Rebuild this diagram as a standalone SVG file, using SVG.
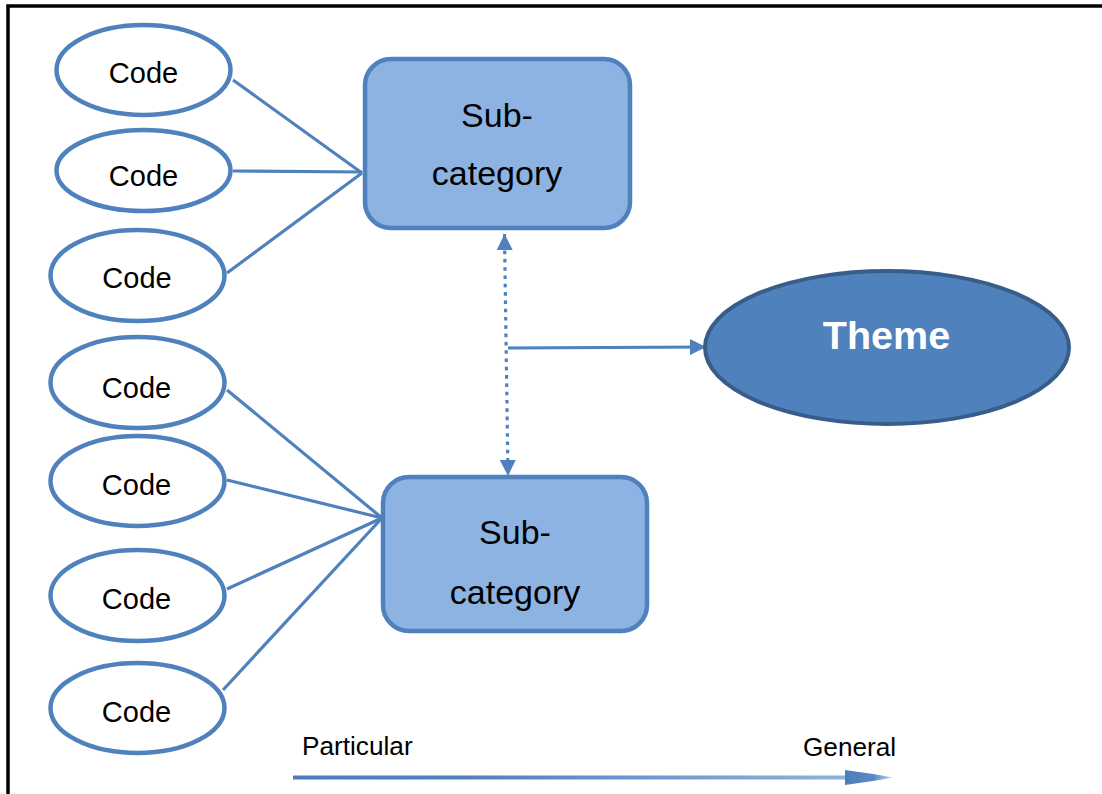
<svg xmlns="http://www.w3.org/2000/svg" width="1102" height="794" viewBox="0 0 1102 794">
<style>
.code ellipse{fill:#fff;stroke:#4f81bd;stroke-width:4.5}
.code text{font-family:"Liberation Sans",Arial,sans-serif;font-size:29px;fill:#000;text-anchor:middle}
.sub rect{fill:#8db3e2;stroke:#4f81bd;stroke-width:4.5}
.sub text{font-family:"Liberation Sans",Arial,sans-serif;font-size:34px;fill:#000;text-anchor:middle}
.conn line{stroke:#4f81bd;stroke-width:3.2;fill:none}
.lbl{font-family:"Liberation Sans",Arial,sans-serif;font-size:26.2px;fill:#000}
</style>
<defs>
<marker id="ah" viewBox="0 0 16 16" refX="16" refY="8" markerWidth="16" markerHeight="16" markerUnits="userSpaceOnUse" orient="auto-start-reverse">
<path d="M0,0 L16,8 L0,16 Z" fill="#4f81bd"/>
</marker>
<linearGradient id="fade" x1="0" y1="0" x2="1" y2="0">
<stop offset="0" stop-color="#4a7ebb"/>
<stop offset="0.3" stop-color="#4f81bd"/>
<stop offset="1" stop-color="#8fb2dc"/>
</linearGradient>
<linearGradient id="headfade" x1="0" y1="0" x2="1" y2="0">
<stop offset="0" stop-color="#4a7ebb"/>
<stop offset="0.6" stop-color="#5a8ac4"/>
<stop offset="1" stop-color="#c5d6ec"/>
</linearGradient>
</defs>

<path id="frame" d="M8,794 V6 H1102" fill="none" stroke="#000" stroke-width="3.5"/>

<g id="connectors" class="conn">
<line x1="233" y1="80" x2="362" y2="173"/>
<line x1="233" y1="171" x2="362" y2="172"/>
<line x1="227" y1="273" x2="362" y2="173"/>
<line x1="227" y1="390" x2="382" y2="518"/>
<line x1="227" y1="480" x2="382" y2="518"/>
<line x1="227" y1="589" x2="382" y2="518"/>
<line x1="223" y1="690" x2="382" y2="518"/>
<line x1="504.5" y1="234" x2="508" y2="476" stroke-width="4" stroke-dasharray="3.6 4.7" marker-start="url(#ah)" marker-end="url(#ah)"/>
<line x1="508" y1="348" x2="706" y2="347" stroke-width="3.8" marker-end="url(#ah)"/>
</g>

<g id="code1" class="code"><ellipse cx="143.5" cy="70" rx="87" ry="45"/><text x="143.5" y="83">Code</text></g>
<g id="code2" class="code"><ellipse cx="143.5" cy="170.5" rx="87" ry="40.5"/><text x="143.5" y="186">Code</text></g>
<g id="code3" class="code"><ellipse cx="137.5" cy="275.5" rx="87" ry="45.5"/><text x="137" y="288">Code</text></g>
<g id="code4" class="code"><ellipse cx="137.5" cy="382.5" rx="87" ry="45.5"/><text x="136.5" y="397.5">Code</text></g>
<g id="code5" class="code"><ellipse cx="137.5" cy="481" rx="87" ry="45"/><text x="136.5" y="495">Code</text></g>
<g id="code6" class="code"><ellipse cx="137.5" cy="595.5" rx="87" ry="45.5"/><text x="136.5" y="609">Code</text></g>
<g id="code7" class="code"><ellipse cx="137.5" cy="708" rx="87" ry="45"/><text x="136.5" y="722">Code</text></g>

<g id="sub1" class="sub"><rect x="365" y="59" width="265" height="169" rx="26"/><text x="497" y="127">Sub-</text><text x="497" y="185">category</text></g>
<g id="sub2" class="sub"><rect x="383" y="477" width="264" height="154" rx="26"/><text x="515" y="544">Sub-</text><text x="515" y="604">category</text></g>

<g id="theme"><ellipse cx="887" cy="347.5" rx="182" ry="76.5" fill="#4f81bd" stroke="#385d8a" stroke-width="4"/><text x="886.5" y="349" font-family="'Liberation Sans',Arial,sans-serif" font-size="39.5" font-weight="bold" fill="#fff" text-anchor="middle">Theme</text></g>

<g id="scale">
<text class="lbl" x="302" y="755">Particular</text>
<text class="lbl" x="803" y="755.5">General</text>
<rect x="293" y="775.5" width="555" height="4" fill="url(#fade)"/>
<path d="M845,770 L873,774 L893,777.5 L873,781 L845,785 Z" fill="url(#headfade)"/>
</g>
</svg>
